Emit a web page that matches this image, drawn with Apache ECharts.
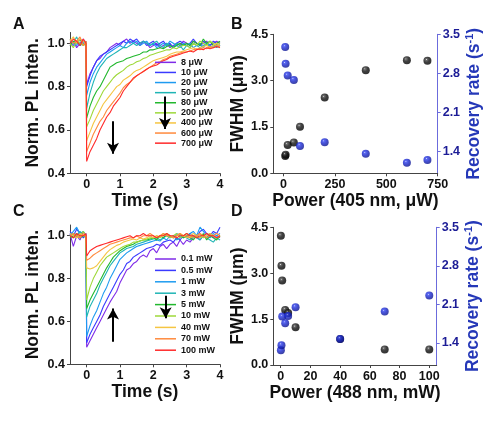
<!DOCTYPE html>
<html>
<head>
<meta charset="utf-8">
<script src="https://cdn.jsdelivr.net/npm/echarts@6/dist/echarts.min.js"></script>
<style>
  html, body { margin: 0; padding: 0; background: #fff; }
  #chart { width: 495px; height: 421px; }
</style>
</head>
<body>
<div id="chart"></div>
<script>
// time base of the PL traces (s)
var time = [-0.5, -0.4, -0.3, -0.2, -0.1, -0.02,
  0, 0.1, 0.2, 0.3, 0.4, 0.5, 0.6, 0.7, 0.8, 0.9,
  1.0, 1.1, 1.2, 1.3, 1.4, 1.5, 1.6, 1.7, 1.8, 1.9,
  2.0, 2.1, 2.2, 2.3, 2.4, 2.5, 2.6, 2.7, 2.8, 2.9,
  3.0, 3.1, 3.2, 3.3, 3.4, 3.5, 3.6, 3.7, 3.8, 3.9, 4.0];

var namesA = ['8 μW', '10 μW', '20 μW', '50 μW', '80 μW', '200 μW', '400 μW', '600 μW', '700 μW'];
var namesC = ['0.1 mW', '0.5 mW', '1 mW', '3 mW', '5 mW', '10 mW', '40 mW', '70 mW', '100 mW'];
var colors = ['#7f2be8', '#3a3aff', '#1e9bf0', '#1fb5b5', '#22b82e', '#9ed93a', '#f5c542', '#ff8a3d', '#ff2a2a'];

// panel A: 405 nm traces
var a8 = [0.99,1.01,0.98,1.00,1.02,0.99,
  0.81,0.86,0.89,0.92,0.93,0.95,0.96,0.98,0.99,1.00,
  0.99,1.01,1.02,1.00,1.01,1.00,0.99,1.01,1.00,0.98,
  0.99,1.00,0.98,0.99,1.00,0.98,0.99,1.00,0.99,1.01,
  1.00,0.99,1.01,1.00,0.99,1.00,1.01,0.99,1.00,1.01,1.00];
var a10 = [1.00,0.99,1.01,0.99,1.00,1.01,
  0.80,0.85,0.89,0.92,0.94,0.95,0.96,0.97,0.98,0.99,
  1.00,1.01,1.00,1.02,1.01,1.02,1.00,1.01,0.99,1.00,
  1.01,0.99,1.00,1.01,0.99,1.00,0.98,1.00,1.01,1.00,
  0.99,1.00,1.02,1.00,0.99,1.01,1.00,0.99,1.01,1.00,0.99];
var a20 = [1.01,1.00,0.99,1.02,1.00,1.00,
  0.76,0.82,0.86,0.89,0.91,0.93,0.95,0.96,0.97,0.98,
  0.99,0.98,1.00,1.01,1.00,1.01,0.99,1.00,1.01,0.99,
  1.00,0.98,0.99,1.00,0.99,1.01,1.00,0.99,0.98,1.00,
  0.99,1.00,0.98,0.99,1.00,0.98,1.00,0.99,0.98,1.00,0.99];
var a50 = [1.02,1.00,1.03,0.99,1.01,1.00,
  0.70,0.77,0.82,0.86,0.89,0.91,0.93,0.94,0.95,0.96,
  0.97,0.98,0.98,0.99,1.00,0.99,1.00,1.01,1.00,0.99,
  1.00,1.01,0.99,0.98,1.00,0.99,0.98,1.00,0.99,0.97,
  0.99,0.98,1.00,0.99,0.98,0.99,1.00,0.98,0.99,0.98,0.99];
var a80 = [0.99,1.01,1.00,1.02,0.99,1.00,
  0.655,0.71,0.75,0.78,0.80,0.83,0.86,0.89,0.90,0.91,
  0.915,0.92,0.93,0.935,0.94,0.945,0.95,0.96,0.96,0.97,
  0.97,0.975,0.98,0.975,0.985,0.99,0.98,0.99,1.00,0.99,
  1.00,0.99,1.01,1.00,0.99,1.02,1.00,1.01,0.99,1.00,1.01];
var a200 = [1.00,0.98,1.01,1.00,0.99,1.01,
  0.615,0.65,0.69,0.72,0.75,0.78,0.80,0.82,0.84,0.855,
  0.865,0.875,0.89,0.90,0.905,0.915,0.92,0.93,0.935,0.945,
  0.95,0.955,0.96,0.965,0.97,0.97,0.98,0.975,0.985,0.99,
  0.99,0.98,1.00,0.99,1.01,1.00,0.99,1.01,1.00,0.99,1.00];
var a400 = [1.01,1.03,1.00,1.02,1.01,1.00,
  0.55,0.59,0.63,0.66,0.69,0.72,0.74,0.76,0.78,0.80,
  0.81,0.83,0.84,0.85,0.865,0.875,0.88,0.89,0.90,0.91,
  0.92,0.925,0.93,0.935,0.94,0.95,0.955,0.96,0.96,0.965,
  0.97,0.975,0.98,0.97,0.98,0.985,0.99,0.98,0.99,1.00,0.99];
var a600 = [1.02,1.00,1.01,1.03,0.99,1.01,
  0.50,0.54,0.58,0.61,0.64,0.66,0.69,0.71,0.73,0.75,
  0.77,0.795,0.81,0.82,0.835,0.85,0.86,0.87,0.88,0.89,
  0.90,0.91,0.915,0.925,0.93,0.94,0.945,0.95,0.955,0.96,
  0.96,0.965,0.97,0.975,0.97,0.98,0.975,0.985,0.98,0.99,0.985];
var a700 = [1.00,1.02,1.01,0.99,1.02,1.00,
  0.455,0.50,0.53,0.56,0.60,0.63,0.66,0.68,0.71,0.73,
  0.75,0.78,0.80,0.82,0.84,0.85,0.86,0.87,0.88,0.89,
  0.895,0.90,0.91,0.92,0.925,0.935,0.94,0.945,0.95,0.955,
  0.96,0.965,0.96,0.97,0.975,0.97,0.98,0.975,0.98,0.985,0.98];

// panel C: 488 nm traces
var c01 = [1.01,0.95,1.00,0.98,1.02,1.00,
  0.48,0.51,0.54,0.57,0.60,0.63,0.66,0.69,0.715,0.74,
  0.78,0.81,0.84,0.85,0.87,0.88,0.90,0.91,0.90,0.93,
  0.94,0.92,0.95,0.96,0.94,0.96,0.97,0.95,0.98,0.96,
  0.98,0.97,0.99,1.00,0.98,1.00,0.99,1.01,0.99,1.00,0.99];
var c05 = [1.02,1.00,1.03,1.01,0.99,1.01,
  0.50,0.54,0.57,0.60,0.63,0.67,0.70,0.73,0.76,0.79,
  0.82,0.84,0.87,0.88,0.90,0.91,0.92,0.93,0.94,0.945,
  0.95,0.96,0.955,0.97,0.975,0.98,0.97,0.99,0.98,1.00,
  0.99,1.01,1.00,0.99,1.02,1.03,1.01,1.00,1.02,1.01,1.04];
var c1 = [1.00,1.02,1.04,1.01,1.02,1.00,
  0.53,0.58,0.62,0.65,0.69,0.73,0.76,0.80,0.83,0.86,
  0.89,0.905,0.92,0.93,0.94,0.95,0.955,0.96,0.965,0.97,
  0.975,0.98,0.975,0.99,0.98,1.00,0.99,1.01,1.00,0.99,
  1.00,1.01,1.02,1.00,1.04,1.02,1.00,0.99,1.01,1.00,1.01];
var c3 = [1.01,0.99,1.00,1.02,1.00,0.99,
  0.62,0.67,0.70,0.73,0.77,0.80,0.83,0.86,0.88,0.90,
  0.92,0.93,0.94,0.945,0.95,0.96,0.965,0.97,0.975,0.98,
  0.985,0.99,0.98,0.99,1.00,0.99,1.00,0.98,0.99,1.00,
  0.99,0.98,1.00,0.99,0.98,1.00,0.99,0.98,0.97,0.99,0.98];
var c5 = [0.99,1.00,1.01,0.99,1.00,1.00,
  0.66,0.70,0.73,0.76,0.79,0.82,0.85,0.875,0.90,0.915,
  0.93,0.94,0.95,0.955,0.96,0.97,0.975,0.98,0.98,0.985,
  0.99,0.98,1.00,0.99,1.01,1.00,0.99,1.00,1.01,0.99,
  1.00,0.99,0.98,1.00,0.99,1.01,0.98,1.00,0.99,0.98,1.00];
var c10 = [1.00,1.01,0.99,1.00,1.02,1.00,
  0.70,0.76,0.80,0.83,0.86,0.88,0.90,0.91,0.92,0.93,
  0.94,0.95,0.955,0.96,0.97,0.97,0.975,0.98,0.985,0.99,
  0.99,1.00,0.99,1.01,1.00,0.99,1.00,1.01,0.99,1.00,
  1.01,1.00,0.99,1.00,1.01,0.99,1.00,1.01,1.00,0.99,1.00];
var c40 = [1.01,1.00,0.99,1.01,1.00,1.00,
  0.85,0.845,0.85,0.86,0.88,0.90,0.92,0.935,0.945,0.955,
  0.96,0.97,0.975,0.98,0.985,0.98,0.99,0.985,0.99,1.00,
  0.99,1.00,0.995,1.00,1.01,1.00,0.99,1.00,1.01,1.00,
  0.99,1.00,1.01,1.00,0.99,1.00,1.00,1.01,1.00,0.99,1.00];
var c70 = [1.00,1.01,1.00,0.99,1.01,1.00,
  0.885,0.895,0.91,0.92,0.93,0.94,0.95,0.96,0.965,0.97,
  0.975,0.98,0.985,0.99,0.99,1.00,0.99,1.00,1.00,1.01,
  1.00,0.99,1.00,1.01,1.00,1.00,0.99,1.00,1.01,1.00,
  1.00,0.99,1.00,1.00,1.01,1.00,0.99,1.00,1.00,1.01,1.00];
var c100 = [1.00,0.99,1.01,1.00,1.00,1.01,
  0.905,0.93,0.94,0.95,0.955,0.96,0.965,0.97,0.975,0.98,
  0.985,0.99,0.995,1.00,0.99,1.00,1.00,1.01,1.00,1.00,
  1.00,0.99,1.00,1.00,1.01,1.00,1.00,0.99,1.00,1.00,
  1.01,1.00,1.00,0.99,1.00,1.00,1.01,1.00,1.00,0.99,1.00];

// panels B and D: FWHM (um) and recovery rate (1/s) vs power
var powerB = [8, 10, 20, 50, 80, 200, 400, 600, 700];
var fwhmB = [0.56, 0.60, 0.92, 1.00, 1.51, 2.45, 3.34, 3.66, 3.64];
var rateB = [3.27, 2.97, 2.76, 2.68, 1.49, 1.56, 1.35, 1.19, 1.24];
var powerD = [0.1, 0.5, 1, 3, 5, 10, 40, 70, 100];
var fwhmD = [4.22, 3.24, 2.76, 1.80, 1.70, 1.23, 0.85, 0.51, 0.51];
var rateD = [1.27, 1.36, 1.88, 1.76, 1.89, 2.05, 1.47, 1.97, 2.26];

// tick labels
var timeTicks = [0, 1, 2, 3, 4];
var plTicks = [0.4, 0.6, 0.8, 1.0];
var powerTicksB = [0, 250, 500, 750];
var powerTicksD = [0, 20, 40, 60, 80, 100];
var rateTicks = [1.4, 2.1, 2.8, 3.5];

// arrows (data coords): [t, yStart, yEnd]
var arrowsA = [[0.79, 0.64, 0.49], [2.35, 0.755, 0.605]];
var arrowsC = [[0.79, 0.505, 0.66], [2.37, 0.72, 0.615]];

var FONT = '"Liberation Sans", Arial, sans-serif';
var curvesA = [a8, a10, a20, a50, a80, a200, a400, a600, a700];
var curvesC = [c01, c05, c1, c3, c5, c10, c40, c70, c100];

function zip(xs, ys) {
  var out = [];
  for (var i = 0; i < Math.min(xs.length, ys.length); i++) out.push([xs[i], ys[i]]);
  return out;
}

function axisCommon(color, labelColor) {
  return {
    type: 'value',
    splitLine: {show: false},
    axisLine: {show: true, onZero: false, lineStyle: {color: color, width: 1}},
    axisTick: {show: true, length: 3, lineStyle: {color: color}},
    axisLabel: {fontFamily: FONT, fontWeight: 'bold', fontSize: 12.5, color: labelColor, margin: 5},
    nameLocation: 'middle',
    nameTextStyle: {fontFamily: FONT, fontWeight: 'bold', fontSize: 17.5, color: '#111'}
  };
}

function ax(extra, color, labelColor) {
  var a = axisCommon(color || '#444', labelColor || '#111');
  for (var k in extra) {
    if (typeof extra[k] === 'object' && a[k] && !Array.isArray(extra[k])) {
      for (var j in extra[k]) a[k][j] = extra[k][j];
    } else a[k] = extra[k];
  }
  return a;
}

function fmt1(v) { return v.toFixed(1); }

function arrowMarks(list) {
  return list.map(function (a) {
    return [{coord: [a[0], a[1]]}, {coord: [a[0], a[2]]}];
  });
}

function ball(stops) {
  return {
    type: 'radial', x: 0.38, y: 0.34, r: 0.66,
    colorStops: stops.map(function (s) { return {offset: s[0], color: s[1]}; })
  };
}

var series = [];
function addTraces(curves, names, xi, yi, arrows) {
  curves.forEach(function (c, i) {
    var s = {
      name: names[i], type: 'line', xAxisIndex: xi, yAxisIndex: yi,
      data: zip(time, c), symbol: 'none', silent: true,
      lineStyle: {width: 1.1, color: colors[i]}, itemStyle: {color: colors[i]}
    };
    if (i === curves.length - 1) {
      s.markLine = {
        silent: true, symbol: ['none', 'arrow'], symbolSize: [9, 11],
        label: {show: false},
        lineStyle: {color: '#000', width: 2, type: 'solid'},
        data: arrowMarks(arrows)
      };
    }
    series.push(s);
  });
}
addTraces(curvesA, namesA, 0, 0, arrowsA);
addTraces(curvesC, namesC, 2, 3, arrowsC);

var blackBall = ball([[0, '#e0e0e0'], [0.15, '#484848'], [0.5, '#101010'], [1, '#000']]);
var blueBall = ball([[0, '#dfe5ff'], [0.15, '#3344ee'], [0.5, '#1826cc'], [1, '#0b1390']]);
series.push({type: 'scatter', xAxisIndex: 1, yAxisIndex: 1, data: zip(powerB, fwhmB), symbolSize: 8, itemStyle: {color: blackBall}, silent: true});
series.push({type: 'scatter', xAxisIndex: 1, yAxisIndex: 2, data: zip(powerB, rateB), symbolSize: 8, itemStyle: {color: blueBall}, silent: true});
series.push({type: 'scatter', xAxisIndex: 3, yAxisIndex: 4, data: zip(powerD, fwhmD), symbolSize: 8, itemStyle: {color: blackBall}, silent: true});
series.push({type: 'scatter', xAxisIndex: 3, yAxisIndex: 5, data: zip(powerD, rateD), symbolSize: 8, itemStyle: {color: blueBall}, silent: true});

var rateName = 'Recovery rate (s{sup|-1})';
var rateNameStyle = {
  fontFamily: FONT, fontWeight: 'bold', fontSize: 17.5, color: '#2538b8', lineHeight: 20,
  rich: {sup: {fontFamily: FONT, fontWeight: 'bold', fontSize: 11, color: '#2538b8', verticalAlign: 'top', lineHeight: 20}}
};

function legendFor(names, top, h) {
  return {
    data: names, orient: 'vertical', left: 155, top: top, padding: 0,
    icon: 'rect', itemWidth: 21, itemHeight: 1.5, itemGap: 0, selectedMode: false,
    textStyle: {fontFamily: FONT, fontWeight: 'bold', fontSize: 9, color: '#111', lineHeight: h, height: h}
  };
}

var option = {
  animation: false,
  backgroundColor: '#fff',
  grid: [
    {left: 70, top: 32.5, width: 150, height: 140.8},
    {left: 273.3, top: 34.3, width: 164.4, height: 139},
    {left: 70, top: 225, width: 150, height: 139.3},
    {left: 273.3, top: 227.3, width: 163.4, height: 137.7}
  ],
  legend: [legendFor(namesA, 57.3, 10.1), legendFor(namesC, 253.3, 11.4)],
  xAxis: [
    ax({gridIndex: 0, min: -0.5, max: 4, name: 'Time (s)', nameGap: 19,
      axisTick: {customValues: timeTicks}, axisLabel: {customValues: timeTicks}}),
    ax({gridIndex: 1, min: -50, max: 750, name: 'Power (405 nm, μW)', nameGap: 19,
      axisTick: {customValues: powerTicksB}, axisLabel: {customValues: powerTicksB}}),
    ax({gridIndex: 2, min: -0.5, max: 4, name: 'Time (s)', nameGap: 19,
      axisTick: {customValues: timeTicks}, axisLabel: {customValues: timeTicks}}),
    ax({gridIndex: 3, min: -5, max: 105, name: 'Power (488 nm, mW)', nameGap: 19,
      axisTick: {customValues: powerTicksD}, axisLabel: {customValues: powerTicksD}})
  ],
  yAxis: [
    ax({gridIndex: 0, min: 0.4, max: 1.05, name: 'Norm. PL inten.', nameGap: 28,
      axisTick: {customValues: plTicks}, axisLabel: {customValues: plTicks, formatter: fmt1}}),
    ax({gridIndex: 1, min: 0, max: 4.5, interval: 1.5, name: 'FWHM (μm)', nameGap: 24,
      axisLabel: {formatter: fmt1}}),
    ax({gridIndex: 1, position: 'right', min: 1.0, max: 3.5, name: rateName, nameGap: 26,
      nameTextStyle: rateNameStyle,
      axisTick: {customValues: rateTicks}, axisLabel: {customValues: rateTicks, formatter: fmt1}},
      '#6b6bdc', '#1c1c96'),
    ax({gridIndex: 2, min: 0.4, max: 1.05, name: 'Norm. PL inten.', nameGap: 28,
      axisTick: {customValues: plTicks}, axisLabel: {customValues: plTicks, formatter: fmt1}}),
    ax({gridIndex: 3, min: 0, max: 4.5, interval: 1.5, name: 'FWHM (μm)', nameGap: 24,
      axisLabel: {formatter: fmt1}}),
    ax({gridIndex: 3, position: 'right', min: 1.0, max: 3.5, name: rateName, nameGap: 26,
      nameTextStyle: rateNameStyle,
      axisTick: {customValues: rateTicks}, axisLabel: {customValues: rateTicks, formatter: fmt1}},
      '#6b6bdc', '#1c1c96')
  ],
  graphic: [
    {type: 'text', left: 13, top: 17, style: {text: 'A', font: 'bold 16px ' + FONT, fill: '#111'}},
    {type: 'text', left: 231, top: 17, style: {text: 'B', font: 'bold 16px ' + FONT, fill: '#111'}},
    {type: 'text', left: 13, top: 204, style: {text: 'C', font: 'bold 16px ' + FONT, fill: '#111'}},
    {type: 'text', left: 231, top: 204, style: {text: 'D', font: 'bold 16px ' + FONT, fill: '#111'}}
  ],
  series: series
};

var chart = echarts.init(document.getElementById('chart'));
chart.setOption(option);
</script>
</body>
</html>
